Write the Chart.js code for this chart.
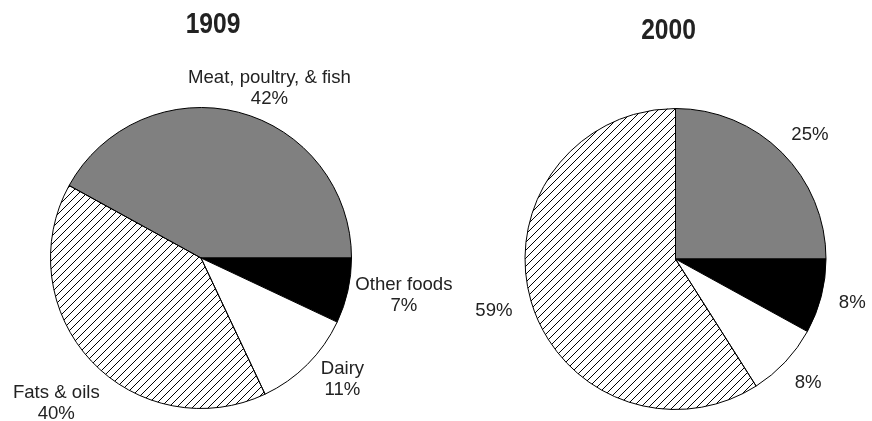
<!DOCTYPE html>
<html>
<head>
<meta charset="utf-8">
<script src="https://cdn.jsdelivr.net/npm/chart.js@4"></script>
<style>
  body { margin: 0; background: #fff; }
  #wrap { position: relative; width: 872px; height: 421px; }
  .box { position: absolute; top: 0; left: 0; width: 872px; height: 421px; }
</style>
</head>
<body>
<div id="wrap">
  <div class="box"><canvas id="pie1909"></canvas></div>
  <div class="box"><canvas id="pie2000"></canvas></div>
</div>
<script>
// data
const categories = ["Meat, poultry, & fish", "Other foods", "Dairy", "Fats & oils"];
const years = ["1909", "2000"];
const shares1909 = [42, 7, 11, 40];
const shares2000 = [25, 8, 8, 59];

// hatch pattern for fats & oils
function makeHatch() {
  const c = document.createElement("canvas");
  c.width = 8;
  c.height = 8;
  const g = c.getContext("2d");
  g.strokeStyle = "#000";
  g.lineWidth = 1;
  g.beginPath();
  g.moveTo(0, 8); g.lineTo(8, 0);
  g.moveTo(-1, 1); g.lineTo(1, -1);
  g.moveTo(7, 9); g.lineTo(9, 7);
  g.stroke();
  return g.createPattern(c, "repeat");
}

const hatch = makeHatch();
const colors = ["#808080", "#000000", "#ffffff", hatch];

// label placement: offset from the arc's outer mid point, px
const labelOffsets1909 = [[31, -29], [56, -1], [35, 10], [-35, 37]];
const labelOffsets2000 = [[28, -13], [31, 12], [23, 26], [-37, 15]];

const labelPlugin = {
  id: "pieLabels",
  afterDraw(chart, args, opts) {
    const ctx = chart.ctx;
    const meta = chart.getDatasetMeta(0);
    const data = chart.data.datasets[0].data;
    ctx.save();
    ctx.fillStyle = "#222";
    ctx.textAlign = "center";
    ctx.textBaseline = "alphabetic";
    ctx.font = "18.6px 'Liberation Sans', Arial, sans-serif";
    meta.data.forEach((arc, i) => {
      const mid = (arc.startAngle + arc.endAngle) / 2;
      const ax = arc.x + Math.cos(mid) * arc.outerRadius;
      const ay = arc.y + Math.sin(mid) * arc.outerRadius;
      const off = opts.offsets[i];
      const x = ax + off[0];
      const y = ay + off[1];
      if (opts.named) {
        ctx.fillText(categories[i], x, y);
        ctx.fillText(data[i] + "%", x, y + 21);
      } else {
        ctx.fillText(data[i] + "%", x, y);
      }
    });
    // title, condensed bold
    const arc0 = meta.data[0];
    ctx.font = "bold 30px 'Liberation Sans', Arial, sans-serif";
    ctx.translate(arc0.x + opts.titleDx, opts.titleY);
    ctx.scale(0.82, 1);
    ctx.fillText(opts.title, 0, 0);
    ctx.restore();
  }
};

function makePie(id, values, rotation, padding, labelOpts) {
  return new Chart(document.getElementById(id), {
    type: "pie",
    data: {
      labels: categories,
      datasets: [{
        data: values,
        backgroundColor: colors,
        borderColor: "#000",
        borderWidth: 1
      }]
    },
    options: {
      responsive: true,
      maintainAspectRatio: false,
      animation: false,
      rotation: rotation,
      layout: { padding: padding },
      plugins: {
        legend: { display: false },
        tooltip: { enabled: false },
        pieLabels: labelOpts
      }
    },
    plugins: [labelPlugin]
  });
}

// 1909 starts so that meat ends at 3 o'clock
const rot1909 = 90 - shares1909[0] * 3.6;
makePie("pie1909", shares1909, rot1909,
  { left: 50, right: 520, top: 107, bottom: 12 },
  { offsets: labelOffsets1909, named: true, title: years[0], titleDx: 12, titleY: 33 });

makePie("pie2000", shares2000, 0,
  { left: 524, right: 45, top: 108, bottom: 11 },
  { offsets: labelOffsets2000, named: false, title: years[1], titleDx: -7, titleY: 39 });
</script>
</body>
</html>
